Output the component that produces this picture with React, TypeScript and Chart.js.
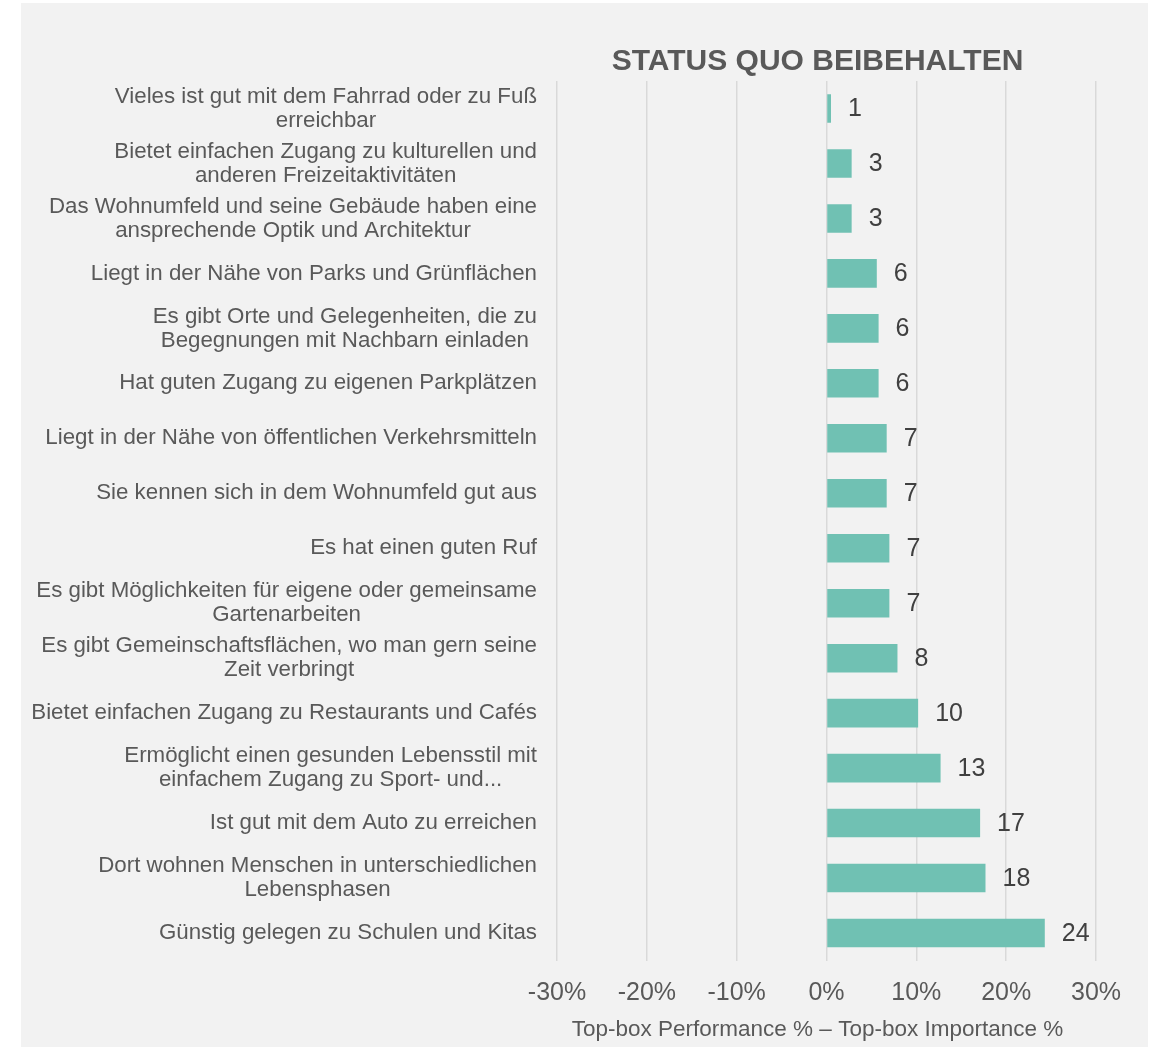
import { useEffect, useRef } from "react";
import { Chart, registerables } from "chart.js";

Chart.register(...registerables);

const FONT = '"Liberation Sans", Arial, sans-serif';

const categories: string[][] = [
  ["Vieles ist gut mit dem Fahrrad oder zu Fuß", "erreichbar"],
  ["Bietet einfachen Zugang zu kulturellen und", "anderen Freizeitaktivitäten"],
  ["Das Wohnumfeld und seine Gebäude haben eine", "ansprechende Optik und Architektur"],
  ["Liegt in der Nähe von Parks und Grünflächen"],
  ["Es gibt Orte und Gelegenheiten, die zu", "Begegnungen mit Nachbarn einladen"],
  ["Hat guten Zugang zu eigenen Parkplätzen"],
  ["Liegt in der Nähe von öffentlichen Verkehrsmitteln"],
  ["Sie kennen sich in dem Wohnumfeld gut aus"],
  ["Es hat einen guten Ruf"],
  ["Es gibt Möglichkeiten für eigene oder gemeinsame", "Gartenarbeiten"],
  ["Es gibt Gemeinschaftsflächen, wo man gern seine", "Zeit verbringt"],
  ["Bietet einfachen Zugang zu Restaurants und Cafés"],
  ["Ermöglicht einen gesunden Lebensstil mit", "einfachem Zugang zu Sport- und..."],
  ["Ist gut mit dem Auto zu erreichen"],
  ["Dort wohnen Menschen in unterschiedlichen", "Lebensphasen"],
  ["Günstig gelegen zu Schulen und Kitas"],
];

const values: number[] = [0.5, 2.8, 2.8, 5.6, 5.8, 5.8, 6.7, 6.7, 7.0, 7.0, 7.9, 10.2, 12.7, 17.1, 17.7, 24.3];

const valueLabels: string[] = ["1", "3", "3", "6", "6", "6", "7", "7", "7", "7", "8", "10", "13", "17", "18", "24"];

const xMin = -30;
const xMax = 30;
const xStep = 10;

const chartTitle = "STATUS QUO BEIBEHALTEN";
const xAxisTitle = "Top-box Performance % – Top-box Importance %";

const labelPlugin = {
  id: "customLabels",
  afterDraw(chart: any) {
    const ctx = chart.ctx as CanvasRenderingContext2D;
    const yScale = chart.scales.y;
    const area = chart.chartArea;
    const midX = (area.left + area.right) / 2 - 9;
    ctx.save();

    // chart title
    ctx.font = `bold 30px ${FONT}`;
    ctx.fillStyle = "#595959";
    ctx.textAlign = "center";
    ctx.textBaseline = "alphabetic";
    ctx.fillText(chartTitle, midX, area.top - 11.5);

    // axis title
    ctx.font = `22.5px ${FONT}`;
    ctx.fillText(xAxisTitle, midX, chart.height - 11.5);

    // category labels
    ctx.font = `22.3px ${FONT}`;
    ctx.textBaseline = "middle";
    const lh = 24;
    categories.forEach((lines, i) => {
      const cy = yScale.getPixelForTick(i);
      const w = Math.max(...lines.map((l) => ctx.measureText(l).width));
      const right = area.left - 20;
      const cx = right - w / 2;
      lines.forEach((l, j) => {
        ctx.fillText(l, cx, cy + (j - (lines.length - 1) / 2) * lh);
      });
    });

    // value labels
    const meta = chart.getDatasetMeta(0);
    ctx.font = `25px ${FONT}`;
    ctx.fillStyle = "#404040";
    ctx.textAlign = "left";
    meta.data.forEach((bar: any, i: number) => {
      ctx.fillText(valueLabels[i], bar.x + 17, bar.y + 1);
    });
    ctx.restore();
  },
};

export default function App() {
  const ref = useRef<HTMLCanvasElement | null>(null);
  useEffect(() => {
    if (!ref.current) return;
    const chart = new Chart(ref.current, {
      type: "bar",
      data: {
        labels: categories.map((c) => c.join(" ")),
        datasets: [
          {
            data: values,
            backgroundColor: "#70C1B3",
            barPercentage: 0.52,
            categoryPercentage: 1,
          },
        ],
      },
      options: {
        indexAxis: "y",
        responsive: false,
        animation: false,
        layout: { padding: { left: 0, right: 52, top: 78, bottom: 21.5 } },
        plugins: {
          legend: { display: false },
          tooltip: { enabled: false },
          title: { display: false },
        },
        scales: {
          x: {
            min: xMin,
            max: xMax,
            ticks: {
              stepSize: xStep,
              callback: (v: any) => `${v}%`,
              color: "#595959",
              font: { family: FONT, size: 25 },
              padding: 17.5,
            },
            grid: { color: "#d9d9d9", lineWidth: 1.5, drawTicks: false },
            border: { display: false },
          },
          y: {
            ticks: { display: false },
            grid: { display: false },
            border: { display: false },
            afterFit: (s: any) => {
              s.width = 536;
            },
          },
        },
      },
      plugins: [labelPlugin],
    } as any);
    return () => chart.destroy();
  }, []);
  return (
    <div
      style={{
        position: "absolute",
        left: 21,
        top: 3,
        width: 1127,
        height: 1044,
        background: "#f2f2f2",
      }}
    >
      <canvas ref={ref} width={1127} height={1044} style={{ display: "block" }} />
    </div>
  );
}
